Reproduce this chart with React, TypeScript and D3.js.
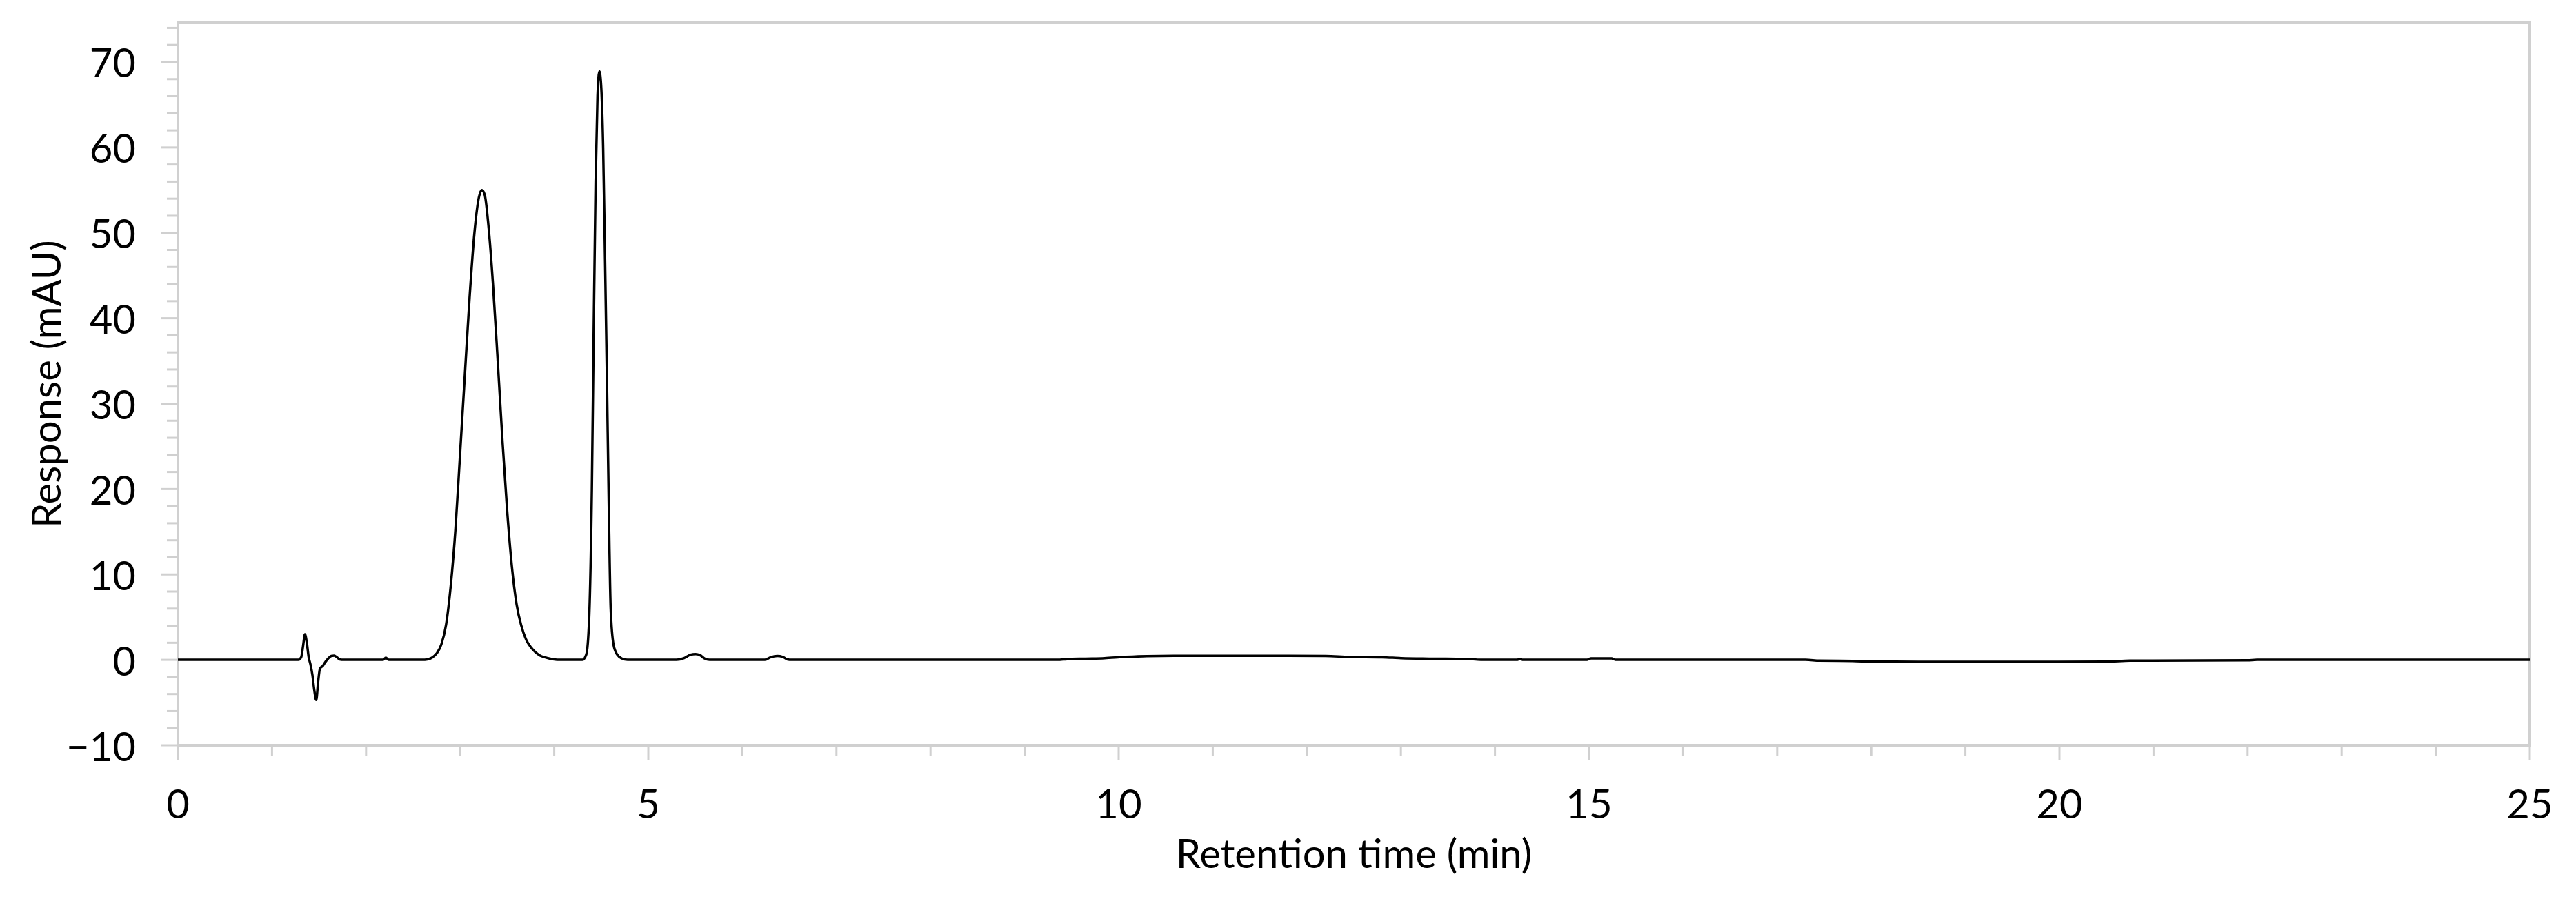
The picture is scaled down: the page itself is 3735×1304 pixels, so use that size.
import React from 'react';
import * as d3 from 'd3';

// ---- data ----
const retentionTime: number[] = [
  0, 1.28, 1.31, 1.33, 1.35, 1.37, 1.39, 1.41, 1.43, 1.45, 1.47, 1.49, 1.51, 1.54, 1.57, 1.6, 1.63, 1.66, 1.69, 1.72, 1.76,
  2.18, 2.21, 2.24,
  2.6, 2.65, 2.7, 2.75, 2.8, 2.85, 2.9, 2.95, 3.0, 3.05, 3.1, 3.15, 3.2, 3.23, 3.26, 3.3, 3.35, 3.4, 3.45, 3.5, 3.55, 3.6,
  3.65, 3.7, 3.75, 3.8, 3.85, 3.9, 3.95, 4.0, 4.05,
  4.3, 4.34, 4.37, 4.4, 4.42, 4.44, 4.46, 4.48, 4.5, 4.52, 4.54, 4.56, 4.58, 4.6, 4.63, 4.67, 4.72, 4.78,
  5.3, 5.38, 5.45, 5.5, 5.55, 5.6, 5.65,
  6.24, 6.3, 6.37, 6.43, 6.48, 6.52,
  9.35, 9.45, 9.65, 9.85, 10.05, 10.3, 10.7, 11.5, 12.2, 12.45, 12.8, 13.0, 13.3, 13.7, 13.85,
  14.24, 14.26, 14.29, 14.98, 15.02, 15.24, 15.28,
  17.3, 17.45, 17.8, 18.0, 18.5, 19.5, 20.5, 20.75, 21.5, 22.0, 22.1, 25,
];
const response: number[] = [
  0, 0, 0.3, 1.6, 3.0, 2.0, 0.3, -0.6, -1.8, -3.6, -4.7, -2.6, -1.0, -0.7, -0.2, 0.2, 0.45, 0.5, 0.3, 0.05, 0,
  0, 0.25, 0,
  0, 0.05, 0.25, 0.75, 1.8, 4.1, 8.7, 15.3, 24.3, 33.4, 42.4, 49.8, 54.2, 55.0, 54.5, 50.9, 43.8, 34.9, 25.6, 17.4, 10.9, 6.5,
  4.0, 2.4, 1.5, 0.9, 0.5, 0.3, 0.15, 0.05, 0,
  0, 0.6, 4.5, 20, 39, 56, 66, 68.9, 67, 60, 47, 33, 18, 6, 1.8, 0.6, 0.15, 0,
  0, 0.2, 0.6, 0.68, 0.55, 0.15, 0,
  0, 0.3, 0.46, 0.35, 0.05, 0,
  0, 0.08, 0.14, 0.2, 0.33, 0.44, 0.47, 0.47, 0.45, 0.34, 0.3, 0.2, 0.14, 0.1, 0.02,
  0.02, 0.12, 0.02, 0.02, 0.17, 0.17, 0.02,
  0, -0.1, -0.13, -0.2, -0.23, -0.23, -0.22, -0.1, -0.08, -0.05, 0, 0,
];

const xTicks: number[] = [0, 5, 10, 15, 20, 25];
const yTicks: number[] = [-10, 0, 10, 20, 30, 40, 50, 60, 70];
const xMinorTicks: number[] = d3.range(0, 26, 1);
const yMinorTicks: number[] = d3.range(-10, 75, 2);
const xTitle = 'Retention time (min)';
const yTitle = 'Response (mAU)';

const W = 3735;
const H = 1304;
const PLOT = { left: 258, right: 3668, top: 33, bottom: 1081 };
const FONT = 'Lato, "Noto Sans", sans-serif';
const GRID = '#d0d0d0';

export default function App() {
  const x = d3.scaleLinear().domain([0, 25]).range([PLOT.left, PLOT.right]);
  const y = d3.scaleLinear().domain([-10, 74.6]).range([PLOT.bottom, PLOT.top]);

  const pts = retentionTime.map((t, i) => [t, response[i]] as [number, number]);
  const line = d3
    .line<[number, number]>()
    .x((d) => x(d[0]))
    .y((d) => y(d[1]))
    .curve(d3.curveMonotoneX);

  const fmt = (v: number) => (v < 0 ? '\u2212' + Math.abs(v) : String(v));

  return (
    <svg
      width={W}
      height={H}
      viewBox={`0 0 ${W} ${H}`}
      style={{ position: 'absolute', left: 0, top: 0, display: 'block', background: '#fff' }}
    >
      <rect x={0} y={0} width={W} height={H} fill="#fff" />
      {/* plot frame */}
      <rect
        x={PLOT.left}
        y={PLOT.top}
        width={PLOT.right - PLOT.left}
        height={PLOT.bottom - PLOT.top}
        fill="none"
        stroke={GRID}
        strokeWidth={4}
      />
      {/* y minor / major ticks */}
      {yMinorTicks.map((v) => (
        <line
          key={'ym' + v}
          x1={PLOT.left - (v % 10 === 0 ? 25 : 16)}
          x2={PLOT.left}
          y1={y(v)}
          y2={y(v)}
          stroke={GRID}
          strokeWidth={3}
        />
      ))}
      {/* x minor / major ticks */}
      {xMinorTicks.map((v) => (
        <line
          key={'xm' + v}
          x1={x(v)}
          x2={x(v)}
          y1={PLOT.bottom}
          y2={PLOT.bottom + (v % 5 === 0 ? 21 : 15)}
          stroke={GRID}
          strokeWidth={3}
        />
      ))}
      {/* y tick labels */}
      {yTicks.map((v) => (
        <text
          key={'yl' + v}
          x={197}
          y={y(v)}
          textAnchor="end"
          dominantBaseline="central"
          fontFamily={FONT}
          fontSize={58}
          fill="#000"
        >
          {fmt(v)}
        </text>
      ))}
      {/* x tick labels */}
      {xTicks.map((v) => (
        <text
          key={'xl' + v}
          x={x(v)}
          y={1187}
          textAnchor="middle"
          fontFamily={FONT}
          fontSize={58}
          fill="#000"
        >
          {v}
        </text>
      ))}
      {/* chromatogram */}
      <path d={line(pts) || ''} fill="none" stroke="#000" strokeWidth={3.5} strokeLinejoin="round" />
      {/* axis titles */}
      <text
        x={(PLOT.left + PLOT.right) / 2}
        y={1259}
        textAnchor="middle"
        fontFamily={FONT}
        fontSize={58}
        fill="#000"
      >
        {xTitle}
      </text>
      <text
        transform={`translate(88, ${(PLOT.top + PLOT.bottom) / 2}) rotate(-90)`}
        textAnchor="middle"
        fontFamily={FONT}
        fontSize={58}
        fill="#000"
      >
        {yTitle}
      </text>
    </svg>
  );
}
